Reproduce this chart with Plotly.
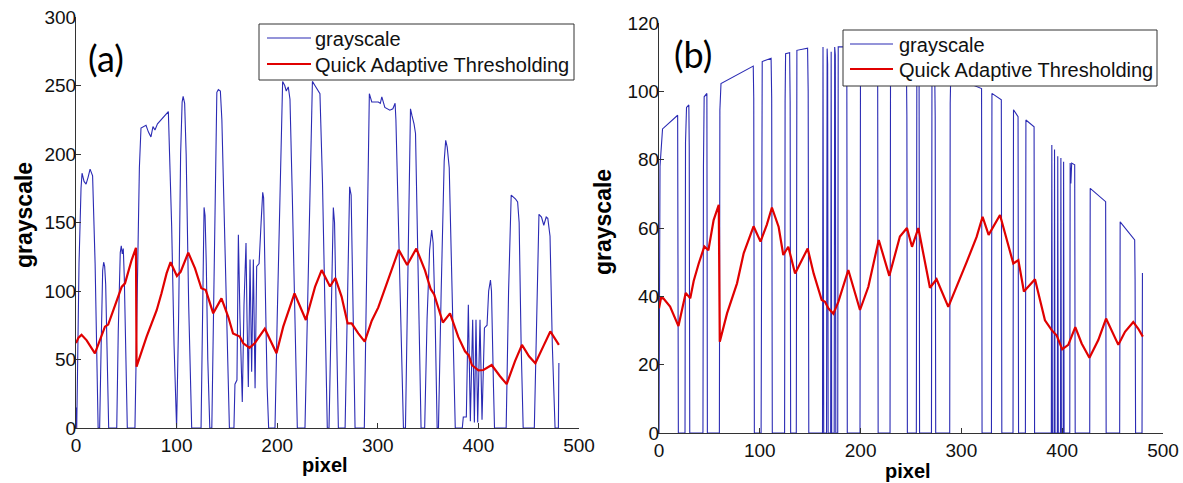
import plotly.graph_objects as go

# ---------------- panel (a) ----------------
a_gray_x = [0, 0.7, 1.5, 3, 5, 6, 8, 10, 12, 14, 16.5, 19, 22,
            23.5, 25, 26.5, 27.5, 28.5, 29.5, 31, 32.5,
            40.5, 42, 44, 45, 46, 47, 48, 49.5, 51,
            58.6, 61, 63, 64.6, 67, 69.6, 72, 74.5, 76.5, 78.5, 81, 85, 88.5, 91.8, 93, 95.1, 97.5, 99.4,
            100, 102, 104, 105.5, 106.5, 108, 109.5, 112, 115,
            124.3, 126, 127.3, 128.3, 129.5, 131, 133,
            135, 137, 139, 140, 141.5, 143.5, 145, 147.5, 150, 152.5,
            157, 158, 160, 161.4, 163, 165.3, 167, 169, 170, 171.3, 173, 174.6, 176.3, 178, 179.6, 182, 184, 185.6, 186.5, 188, 190, 191.5,
            197.8, 200, 203, 205.4, 207.5, 209, 211, 212.7, 215, 218, 220,
            227.6, 230, 233, 235, 237.5, 240, 242.5, 245, 247.5, 249.8,
            251.5, 253.5, 255.3, 255.8, 257, 259, 260.8,
            267.5, 270, 272, 273.5, 275.5, 277.4,
            286.6, 289, 291.6, 294, 297, 300.5, 302.5, 304, 307, 310, 312, 315, 317.2, 318, 321, 325.5,
            327.5, 330, 332.5, 334, 336, 337.5, 340, 343,
            346.6, 349, 351.5, 353.6, 355, 357, 359,
            360.3, 363, 366, 367.5, 369, 371, 373, 375, 377,
            384, 385, 388, 390, 392, 394.3, 396, 397.6, 399.3, 401.6, 403.6, 406, 408.6, 410.2, 412, 413, 415, 416,
            427.6, 430, 432.6, 435, 437, 439, 440.5, 442.5, 444.5,
            455.6, 458, 460.2, 462.7, 465, 467.4, 469, 471.2, 473.5, 476.2,
            479.5, 480]
a_gray_y = [15, 0, 40, 120, 175, 186, 180, 178, 183, 189, 184, 120, 0,
            0, 60, 115, 121, 118, 105, 40, 0,
            0, 70, 128, 133, 127, 131, 110, 40, 0,
            0, 100, 190, 219, 220, 221, 216, 212.5, 220, 217.5, 222, 225.5, 228, 231, 200, 147, 60, 0,
            0, 80, 200, 238, 242, 237, 200, 90, 0,
            0, 100, 161, 155, 120, 50, 0,
            0, 90, 200, 245, 247, 246, 225, 150, 60, 0,
            0, 32, 35, 141, 80, 19, 90, 135, 80, 30, 123, 41, 123, 29, 118, 120, 150, 172, 168, 100, 30, 0,
            0, 80, 190, 253, 250, 246, 249, 240, 170, 60, 0,
            0, 80, 200, 253, 250, 247, 244, 180, 80, 0,
            0, 90, 155, 161, 150, 60, 0,
            0, 100, 176, 170, 80, 0,
            0, 130, 244, 238, 238, 238, 237, 241.7, 234, 233, 232, 233, 237, 225, 140, 0,
            0, 130, 233, 228, 222, 215, 120, 0,
            0, 80, 130, 144.5, 135, 80, 0,
            0, 100, 195, 210, 205, 190, 120, 50, 0,
            0, 8, 8, 90, 5, 79, 4, 79, 4, 79, 6, 73, 75, 100, 108, 100, 30, 0,
            0, 100, 170, 168.6, 167, 165, 150, 60, 0,
            0, 90, 156, 154, 148, 154, 153, 140, 60, 0,
            0, 47.5]

a_qat_x = [0, 2.5, 5.5, 10.6, 18.8, 25.5, 28.8, 32, 38.7, 45.4, 48.7, 55.3, 59.6, 60.2, 70.2, 76.6, 80.2, 85,
           90.1, 94, 100.3, 104, 111.6, 118.3, 124.6, 129, 136.4, 144.6, 151.4, 156.1, 162.8, 166.3, 172.5,
           177.6, 187.7, 199.3, 206, 217.2, 228.5, 237.6, 244.2, 252.5, 257.8, 264, 270, 274, 280.6, 287,
           294, 300.5, 310.5, 320.8, 329.2, 338.3, 346.9, 352.5, 356, 364.7, 371.8, 380, 386.7, 390.5, 393.5,
           400, 405, 413.2, 421.5, 428.1, 436.4, 443.3, 450.3, 456.6, 464.5, 471.5, 480]
a_qat_y = [62, 66, 68, 64, 54.5, 66.7, 74, 75.5, 89, 103, 105.6, 122.6, 131.5, 44.8, 66.7, 78.8, 86, 98.3,
           113, 121, 111, 114, 128, 116.5, 102, 100.7, 83.7, 94.6, 81, 69, 66.7, 61.8, 58.5,
           61.8, 72.5, 54.5, 74, 98.3, 78.8, 103, 115.3, 103.3, 109.5, 95.9, 76.4, 76.4, 69, 63,
           78.3, 88, 108, 130, 119, 131, 115, 101.5, 97.5, 77, 83.7, 66.5, 56, 53, 46,
           42, 42.3, 46, 37.8, 32, 48.8, 60.7, 52.3, 47.2, 59.6, 70.5, 60.7]

# ---------------- panel (b) ----------------
b_gray_x = [0, 1, 3.5, 18.5, 19.2,
            25.8, 26.3, 27.3, 29.6, 30, 30.5,
            43.6, 44.1, 44.8, 47.5, 48,
            59.9, 60.4, 61.5, 93.5, 94, 94.6,
            101.3, 101.8, 102.4, 111.2, 111.8, 112.4,
            124.6, 125.1, 125.6, 129.6, 130.1, 130.6,
            136.2, 136.8, 147.4, 148, 148.6,
            162.2, 162.7, 163.4, 166.2, 166.8, 167.3, 167.8, 170.3, 170.8, 171.3, 173.8, 174.3, 174.9, 175.4,
            177.3, 177.8, 186.3, 186.8,
            199.4, 199.9, 216.9, 217.4,
            229.2, 229.7, 245.4, 245.9, 246.4,
            255.3, 255.8, 258, 258.5,
            270.3, 270.8, 273.5, 274, 274.5,
            288.4, 288.9, 289.4, 320, 320.5,
            329.8, 330.3, 339.6, 340.1,
            351.2, 351.7, 356.2, 356.7,
            363.5, 364, 372.1, 372.6,
            389.2, 389.7, 390.3, 392, 392.4, 392.9, 395.2, 395.6, 396.1, 398.3, 398.7, 399.2, 401, 401.4, 401.9,
            407.5, 407.9, 408.6, 409.4, 412.4, 412.9,
            427.3, 427.8, 443.1, 443.6,
            457, 457.5, 471.9, 472.3, 472.8,
            479.2, 479.6]
b_gray_y = [0, 78, 89, 93, 0,
            0, 85, 95.3, 96, 84, 0,
            0, 78, 98.4, 99.4, 0,
            0, 94.5, 102.3, 107.4, 98, 0,
            0, 95, 108.7, 109.7, 98, 0,
            0, 97, 111, 111.3, 97, 0,
            0, 112, 112.6, 100, 0,
            0, 113, 0, 0, 112.5, 108, 0, 0, 111.6, 0, 0, 113, 110.7, 0,
            0, 113, 113, 0,
            0, 112.3, 111.5, 0,
            0, 110.5, 109, 93, 0,
            0, 108.5, 108, 0,
            0, 106.5, 106, 92.6, 0,
            0, 96.5, 104.5, 100.8, 0,
            0, 99.4, 97.5, 0,
            0, 94.6, 92.6, 0,
            0, 91.6, 89.6, 0,
            0, 84.3, 0, 0, 83, 0, 0, 81, 0, 0, 80.5, 0, 0, 79.4, 0,
            0, 79, 73, 79, 78.5, 0,
            0, 71.6, 67.7, 0,
            0, 61.8, 56.5, 45, 0,
            0, 46.8]

b_qat_x = [0, 2, 4.3, 11, 19.3, 26.5, 31, 34.4, 39.4, 45, 49, 54.2, 59.3, 60.3, 67.5, 77.4, 84, 93.8,
           100.7, 107, 112, 118.7, 123.3, 128.3, 135, 147.5, 153.4, 161.4, 164.7, 168, 173, 177.9, 187.8,
           199.4, 207.7, 218, 228.5, 239, 246, 251, 257.3, 268.8, 275.4, 287, 305.2, 315.1, 321, 327, 338.3,
           351.5, 356.5, 362, 373, 382.9, 389.6, 394.6, 400, 406, 413, 419.3, 427, 435.8, 443.5, 455.7,
           462.3, 470.5, 475.5, 480]
b_qat_y = [36.5, 39.5, 39.4, 37, 31.3, 41, 39.4, 44.5, 49.6, 54.6, 53.5, 62.3, 66.8, 26.7, 35, 43.8, 52.6, 60.5,
           56, 61, 66, 60.3, 52.1, 54.5, 46.7, 54, 46.7, 38.9, 38.4, 36.5, 34.9, 38.4, 47.7,
           36, 42.8, 56.5, 46, 57.5, 60, 54.5, 60, 42.5, 45, 36.9, 50, 57.4, 63.3, 58, 63.8,
           49.6, 50.6, 41.4, 45, 33, 30.1, 28.5, 24.5, 25.8, 31, 26.2, 22, 27.2, 33.5, 25.8,
           29.6, 32.5, 30.5, 28.2]

x_ticks = [0, 100, 200, 300, 400, 500]
a_y_ticks = [0, 50, 100, 150, 200, 250, 300]
b_y_ticks = [0, 20, 40, 60, 80, 100, 120]
series_names = ["grayscale", "Quick Adaptive Thresholding"]

BLUE = "#2b2bb4"
RED = "#e00000"
FONT = "Arial, Liberation Sans, sans-serif"

fig = go.Figure()
fig.add_trace(go.Scatter(x=a_gray_x, y=a_gray_y, mode="lines", name=series_names[0],
                         line=dict(color=BLUE, width=1.1), xaxis="x", yaxis="y"))
fig.add_trace(go.Scatter(x=a_qat_x, y=a_qat_y, mode="lines", name=series_names[1],
                         line=dict(color=RED, width=2.2), xaxis="x", yaxis="y"))
fig.add_trace(go.Scatter(x=b_gray_x, y=b_gray_y, mode="lines", name=series_names[0],
                         line=dict(color=BLUE, width=1.1), xaxis="x2", yaxis="y2"))
fig.add_trace(go.Scatter(x=b_qat_x, y=b_qat_y, mode="lines", name=series_names[1],
                         line=dict(color=RED, width=2.2), xaxis="x2", yaxis="y2"))

W, H = 1183, 483


def px_x(p):
    return p / W


def px_y(p):
    return (H - p) / H


axis_common = dict(showgrid=False, zeroline=False, showline=True, linecolor="#333333", linewidth=1,
                   ticks="inside", ticklen=5, tickcolor="#333333", tickwidth=1, automargin=False,
                   tickfont=dict(family=FONT, size=19, color="#111111"), mirror=False)

fig.update_layout(
    width=W, height=H,
    margin=dict(l=0, r=0, t=0, b=0, pad=0, autoexpand=False),
    paper_bgcolor="white", plot_bgcolor="white",
    showlegend=False,
    xaxis=dict(domain=[px_x(76), px_x(579)], range=[0, 500], tickvals=x_ticks, anchor="y",
               ticklabelstandoff=0, **axis_common),
    yaxis=dict(domain=[px_y(428), px_y(17)], range=[0, 300], tickvals=a_y_ticks, anchor="x",
               ticklabelstandoff=-5, **axis_common),
    xaxis2=dict(domain=[px_x(659), px_x(1163)], range=[0, 500], tickvals=x_ticks, anchor="y2",
                ticklabelstandoff=0, **axis_common),
    yaxis2=dict(domain=[px_y(433), px_y(23)], range=[0, 120], tickvals=b_y_ticks, anchor="x2",
                ticklabelstandoff=-5, **axis_common),
)

# legends drawn as boxes with line samples and real text labels
shapes = []
annotations = []
legend_boxes = [
    # (box x0, x1, y0, y1, sample x0, x1, text x, row y's)
    (259, 574, 24, 80, 267, 311, 313, (38, 64)),
    (843, 1157, 30, 86, 850, 893, 897, (44, 69)),
]
for bx0, bx1, by0, by1, sx0, sx1, tx, rows in legend_boxes:
    shapes.append(dict(type="rect", xref="paper", yref="paper", layer="above",
                       x0=px_x(bx0), x1=px_x(bx1), y0=px_y(by1), y1=px_y(by0),
                       fillcolor="white", line=dict(color="#333333", width=1)))
    for (ry, col, wd, name) in zip(rows, [BLUE, RED], [1.1, 2.2], series_names):
        shapes.append(dict(type="line", xref="paper", yref="paper", layer="above",
                           x0=px_x(sx0), x1=px_x(sx1), y0=px_y(ry), y1=px_y(ry),
                           line=dict(color=col, width=wd)))
        annotations.append(dict(text=name, x=px_x(tx), y=px_y(ry + 1), xref="paper", yref="paper",
                                xanchor="left", yanchor="middle", showarrow=False,
                                font=dict(family=FONT, size=20, color="#111111")))

annotations += [
    dict(text="(a)", x=px_x(106), y=px_y(58), xref="paper", yref="paper", showarrow=False,
         xanchor="center", yanchor="middle",
         font=dict(family="Lato, Open Sans, sans-serif", size=36, color="black")),
    dict(text="(b)", x=px_x(693), y=px_y(54), xref="paper", yref="paper", showarrow=False,
         xanchor="center", yanchor="middle",
         font=dict(family="Lato, Open Sans, sans-serif", size=36, color="black")),
    dict(text="<b>grayscale</b>", x=px_x(24), y=px_y(215), xref="paper", yref="paper", showarrow=False,
         xanchor="center", yanchor="middle", textangle=-90,
         font=dict(family=FONT, size=23, color="black")),
    dict(text="<b>grayscale</b>", x=px_x(603), y=px_y(222), xref="paper", yref="paper", showarrow=False,
         xanchor="center", yanchor="middle", textangle=-90,
         font=dict(family=FONT, size=23, color="black")),
    dict(text="<b>pixel</b>", x=px_x(325), y=px_y(465), xref="paper", yref="paper", showarrow=False,
         xanchor="center", yanchor="middle",
         font=dict(family=FONT, size=20, color="black")),
    dict(text="<b>pixel</b>", x=px_x(908), y=px_y(471), xref="paper", yref="paper", showarrow=False,
         xanchor="center", yanchor="middle",
         font=dict(family=FONT, size=20, color="black")),
]
fig.update_layout(shapes=shapes, annotations=annotations)

fig.write_html("out.html", config={"displayModeBar": False},
               post_script="document.body.style.margin='0';")
